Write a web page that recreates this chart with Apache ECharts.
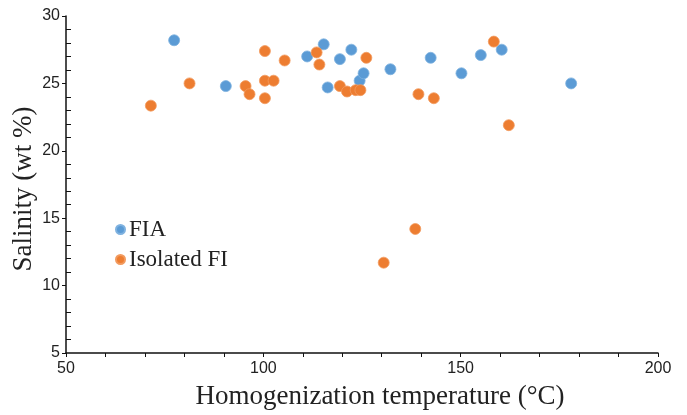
<!DOCTYPE html>
<html>
<head>
<meta charset="utf-8">
<script src="https://cdn.jsdelivr.net/npm/echarts@6/dist/echarts.min.js"></script>
<style>
  html, body { margin: 0; padding: 0; background: #fff; }
  #chart { width: 687px; height: 415px; }
</style>
</head>
<body>
<div id="chart"></div>
<script>
// homogenization temperature (°C) / salinity (wt %)
var fiaTemp = [77.4, 90.5, 111.1, 115.3, 116.3, 119.4, 122.3, 124.4, 125.4, 132.2, 142.4, 150.2, 155.1, 160.4, 178.0];
var fiaSalinity = [28.2, 24.8, 27.0, 27.9, 24.7, 26.8, 27.5, 25.2, 25.75, 26.05, 26.9, 25.75, 27.1, 27.5, 25.0];

var isoTemp = [71.5, 81.3, 95.5, 96.5, 100.4, 100.4, 100.4, 102.6, 105.4, 113.5, 114.2, 119.4, 121.2, 123.4, 124.6, 126.1, 130.5, 138.5, 139.3, 143.2, 158.4, 162.2];
var isoSalinity = [23.35, 25.0, 24.8, 24.2, 27.4, 25.2, 23.9, 25.2, 26.7, 27.3, 26.4, 24.8, 24.4, 24.5, 24.5, 26.9, 11.7, 14.2, 24.2, 23.9, 28.1, 21.9];

var xTicks = [50, 100, 150, 200];
var yTicks = [5, 10, 15, 20, 25, 30];

function pairs(xs, ys) {
  return xs.map(function (x, i) { return [x, ys[i]]; });
}

var chart = echarts.init(document.getElementById("chart"));

var serif = "'Liberation Serif', 'Times New Roman', serif";
var sans = "'Liberation Sans', Arial, sans-serif";

chart.setOption({
  animation: false,
  grid: { left: 66, right: 29, top: 16, bottom: 62, outerBoundsMode: "none" },
  legend: {
    orient: "vertical",
    left: 110,
    top: 213,
    itemGap: 7,
    itemWidth: 9,
    itemHeight: 9,
    icon: "circle",
    textStyle: { fontFamily: serif, fontSize: 23, color: "#222", padding: [0, 0, 0, -1] },
    data: ["FIA", "Isolated FI"],
  },
  xAxis: {
    type: "value",
    min: xTicks[0],
    max: xTicks[xTicks.length - 1],
    interval: 50,
    name: "Homogenization temperature (°C)",
    nameLocation: "middle",
    nameGap: 30,
    nameTextStyle: { fontFamily: serif, fontSize: 27, color: "#222", padding: [0, 0, 0, 36] },
    axisLine: { lineStyle: { color: "#111", width: 1.5 } },
    axisTick: { inside: false, length: 4, lineStyle: { color: "#111" } },
    minorTick: { show: true, splitNumber: 5, length: 4, lineStyle: { color: "#111" } },
    axisLabel: { fontFamily: sans, fontSize: 16, color: "#222", margin: 8 },
    splitLine: { show: false },
  },
  yAxis: [
    {
      type: "value",
      min: yTicks[0],
      max: yTicks[yTicks.length - 1],
      interval: 5,
      name: "Salinity (wt %)",
      nameLocation: "middle",
      nameGap: 29,
      nameMoveOverlap: false,
      nameTextStyle: { fontFamily: serif, fontSize: 27, color: "#222", padding: [0, 9, 0, 0] },
      axisLine: { lineStyle: { color: "#111", width: 1.5 } },
      axisTick: { inside: false, length: 4, lineStyle: { color: "#111" } },
      axisLabel: { fontFamily: sans, fontSize: 16, color: "#222", margin: 6 },
      splitLine: { show: false },
    },
    {
      // second copy of the y scale, only for the inward minor ticks
      type: "value",
      position: "left",
      offset: 0,
      min: yTicks[0],
      max: yTicks[yTicks.length - 1],
      interval: 5,
      axisLine: { show: true, lineStyle: { color: "rgba(0,0,0,0)" } },
      axisTick: { show: true, inside: true, length: 0.01, lineStyle: { color: "#111" } },
      minorTick: { show: true, splitNumber: 5, length: 5, lineStyle: { color: "#111" } },
      axisLabel: { show: false },
      splitLine: { show: false },
    },
  ],
  series: [
    {
      name: "FIA",
      type: "scatter",
      symbolSize: 11,
      itemStyle: { color: "#5B9BD5", borderColor: "#7FB2E0", borderWidth: 0.8, opacity: 1 },
      data: pairs(fiaTemp, fiaSalinity),
    },
    {
      name: "Isolated FI",
      type: "scatter",
      symbolSize: 11,
      itemStyle: { color: "#ED7D31", borderColor: "#F29A5E", borderWidth: 0.8, opacity: 1 },
      data: pairs(isoTemp, isoSalinity),
    },
  ],
});
</script>
</body>
</html>
